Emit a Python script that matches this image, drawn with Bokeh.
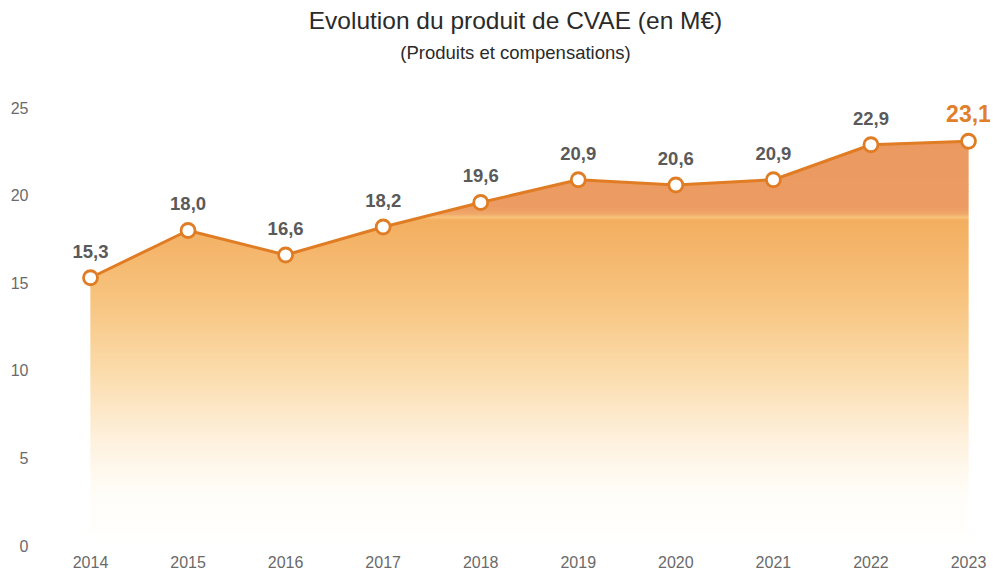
import numpy as np
from bokeh.plotting import figure
from bokeh.models import ColumnDataSource, Title, FixedTicker
from bokeh.core.properties import value
from bokeh.embed import file_html
from bokeh.resources import INLINE

years = [2014, 2015, 2016, 2017, 2018, 2019, 2020, 2021, 2022, 2023]
values = [15.3, 18.0, 16.6, 18.2, 19.6, 20.9, 20.6, 20.9, 22.9, 23.1]
labels = ["15,3", "18,0", "16,6", "18,2", "19,6", "20,9", "20,6", "20,9", "22,9", "23,1"]
y_ticks = [0, 5, 10, 15, 20, 25]

FONT = "Liberation Sans"
ORANGE = "#E07D24"

x0, x1 = 2013.4875, 2023.2255
y0, y1 = 0.0, 26.857

p = figure(width=993, height=570, output_backend="svg", toolbar_location=None,
           x_range=(x0, x1), y_range=(y0, y1), title=None,
           min_border_left=40, min_border_right=3, min_border_top=75, min_border_bottom=25)
p.outline_line_color = None
p.background_fill_color = "white"
p.border_fill_color = "white"
p.xgrid.visible = False
p.ygrid.visible = False

# titles
p.add_layout(Title(text="(Produits et compensations)", align="center", text_font=FONT,
                   text_font_size="18.5px", text_font_style="normal", text_color="#2A2A2A",
                   standoff=26), "above")
p.add_layout(Title(text="Evolution du produit de CVAE (en M€)", align="center", text_font=FONT,
                   text_font_size="24.5px", text_font_style="normal", text_color="#2A2A2A",
                   standoff=-15), "above")

# gradient fill: horizontal bands + white mask above the line
def lerp_color(stops, v):
    for (a, ca), (b, cb) in zip(stops[:-1], stops[1:]):
        if a <= v <= b:
            t = (v - a) / (b - a) if b > a else 0
            c = [int(round(ca[i] + (cb[i] - ca[i]) * t)) for i in range(3)]
            return "#%02x%02x%02x" % tuple(c)
    c = stops[-1][1]
    return "#%02x%02x%02x" % tuple(c)

def hx(h):
    h = h.lstrip("#")
    return tuple(int(h[i:i + 2], 16) for i in (0, 2, 4))

stops = [
    (0.0, hx("#FFFFFF")),
    (3.0, hx("#FFFDF8")),
    (6.0, hx("#FEF1DE")),
    (10.0, hx("#FBDBAA")),
    (14.0, hx("#F7C480")),
    (18.6, hx("#F3AE60")),
    (18.75, hx("#F7C27A")),
    (18.95, hx("#F0A868")),
    (19.3, hx("#EC9C63")),
    (26.0, hx("#EA9760")),
]
step = 0.1
ymax = max(values)
bottoms = np.arange(0, ymax + step, step)
tops = bottoms + step * 1.6
band_src = ColumnDataSource(dict(
    left=[years[0]] * len(bottoms), right=[years[-1]] * len(bottoms),
    bottom=bottoms, top=tops,
    color=[lerp_color(stops, b + step / 2) for b in bottoms]))
p.quad(left="left", right="right", bottom="bottom", top="top", fill_color="color",
       line_color=None, source=band_src)

# white mask above the line (slightly widened so its edges hide the bands)
pad = 0.05
mask_x = [years[0] - pad] + years + [years[-1] + pad]
mask_y = [values[0]] + values + [values[-1]]
p.varea(x=mask_x, y1=mask_y, y2=[y1] * len(mask_x), fill_color="white")

src = ColumnDataSource(dict(x=years, y=values, label=labels))
p.line("x", "y", source=src, line_color=ORANGE, line_width=3)
p.scatter("x", "y", source=src, size=14, fill_color="white", line_color=ORANGE, line_width=2.8)

lab_src = ColumnDataSource(dict(x=years[:-1], y=values[:-1], label=labels[:-1]))
p.text("x", "y", text="label", source=lab_src, text_align="center", text_baseline="bottom",
       y_offset=-20, text_font=value(FONT), text_font_size="18.5px", text_font_style="bold",
       text_color="#5A5A5A")
last_src = ColumnDataSource(dict(x=years[-1:], y=values[-1:], label=labels[-1:]))
p.text("x", "y", text="label", source=last_src, text_align="center", text_baseline="bottom",
       y_offset=-19, text_font=value(FONT), text_font_size="23px", text_font_style="bold",
       text_color="#E0802A")

# axes
p.xaxis.ticker = FixedTicker(ticks=years)
p.yaxis.ticker = FixedTicker(ticks=y_ticks)
for ax in (p.xaxis, p.yaxis):
    ax.axis_line_color = None
    ax.major_tick_line_color = None
    ax.minor_tick_line_color = None
    ax.major_tick_out = 0
    ax.major_tick_in = 0
    ax.major_label_text_font = FONT
    ax.major_label_text_font_size = "16px"
    ax.major_label_text_color = "#6A6A6A"
p.xaxis.major_label_standoff = 10
p.yaxis.major_label_standoff = 12

open("out.html", "w").write(file_html(p, INLINE))
